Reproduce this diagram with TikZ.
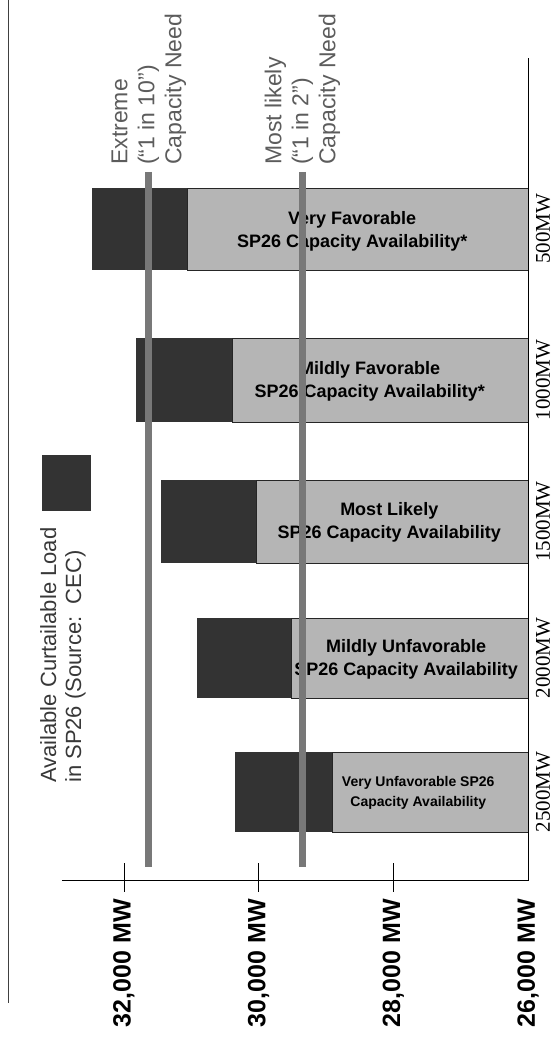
\documentclass[tikz,border=0pt]{standalone}
\usepackage{fontspec}
\setmainfont{Liberation Sans}
\newfontfamily\mwserif{Liberation Serif}
\usepackage{tikz}
\usetikzlibrary{positioning}
\definecolor{curtailgray}{gray}{0.2}
\definecolor{availgray}{gray}{0.71}
\definecolor{needgray}{gray}{0.47}
\definecolor{needtext}{gray}{0.36}
\definecolor{legendtext}{gray}{0.22}

\begin{document}
\begin{tikzpicture}[x=1pt,y=-1pt,
    avail/.style={fill=availgray,draw=black!85,line width=0.8pt},
    needline/.style={needgray,line width=7pt},
    needlabel/.style={rotate=90,anchor=west,align=left,inner sep=0pt,text=needtext,font=\fontsize{23}{27}\selectfont},
    barlabel/.style={align=center,inner sep=0pt,font=\bfseries\fontsize{18}{23}\selectfont},
    ticklabel/.style={rotate=90,anchor=east,inner sep=0pt,font=\bfseries\fontsize{25}{25}\selectfont},
    caselabel/.style={rotate=90,inner sep=0pt,font=\mwserif\fontsize{21}{21}\selectfont}]
\useasboundingbox (0,0) rectangle (556,1040);

% Frame line on the left
\draw[black!75,line width=0.7pt] (8,0) -- (8,1003);

% Legend
\fill[curtailgray] (42,455) rectangle (91,511);
\node[rotate=90,anchor=north west,align=left,inner sep=0pt,text=legendtext,font=\fontsize{22}{25}\selectfont]
    (legend) at (40,783) {Available Curtailable Load\\in SP26 (Source:\ \ CEC)};

\begin{scope}[shift={(528,0)},x=-67.35pt]
    % Bars (top, bottom, available, available + curtailable)
    \foreach \yt/\yb/\av/\cu in {188/270/5.05/6.47, 338/422/4.39/5.82, 480/563/4.04/5.45,
                                  618/698/3.51/4.91, 752/832/2.90/4.35} {
        \fill[curtailgray] (\av,\yt) rectangle (\cu,\yb);
        \draw[avail] (0,\yt) rectangle (\av,\yb);
    }

    % Bar labels
    \node[barlabel] (vfav) at (2.61,231) {Very Favorable\\SP26 Capacity Availability*};
    \node[barlabel] (mfav) at (2.35,381) {Mildly Favorable\\SP26 Capacity Availability*};
    \node[barlabel] (mlik) at (2.06,522) {Most Likely\\SP26 Capacity Availability};
    \node[barlabel] (munf) at (1.81,659) {Mildly Unfavorable\\SP26 Capacity Availability};
    \node[barlabel,font=\bfseries\fontsize{14}{20}\selectfont] (vunf) at (1.63,793)
        {Very Unfavorable SP26\\Capacity Availability};

    % Axes
    \draw[line width=0.8pt] (6.92,880) -- (0,880) -- (0,58);
    \foreach \v in {2,4,6}
        \draw[line width=0.8pt] (\v,863) -- (\v,892);
    \foreach \v/\k in {0/26,2/28,4/30,6/32}
        \node[ticklabel] (tick\k) at (\v,899) {\k,000 MW};

    % Capacity need lines
    \draw[needline] (5.63,172) -- (5.63,867);
    \draw[needline] (3.35,172) -- (3.35,867);
    \node[needlabel] (extreme) at (5.63,165) {Extreme\\(“1 in 10”)\\Capacity Need};
    \node[needlabel] (likely) at (3.35,165) {Most likely\\(“1 in 2”)\\Capacity Need};
\end{scope}

% Cases on the right
\foreach \y/\mw in {229/500,380/1000,521.5/1500,658/2000,792/2500}
    \node[caselabel] (case\mw) at (543,\y) {\mw MW};
\end{tikzpicture}
\end{document}
